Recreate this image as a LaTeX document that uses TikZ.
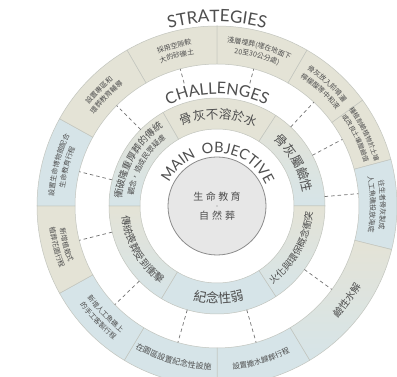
\documentclass[tikz,border=0pt]{standalone}
\usepackage{fontspec}
\usepackage{tikz}
\usetikzlibrary{decorations.text}

\newfontfamily\cjk{Noto Sans CJK TC}
\newfontfamily\capfont{Lato}
\newfontfamily\widecap[LetterSpace=22]{Lato}

\definecolor{sand}{HTML}{E4E3D6}
\definecolor{mist}{HTML}{D6E4E8}
\definecolor{seam}{HTML}{C2C5BE}
\definecolor{ink}{HTML}{4E4E4E}
\definecolor{corefill}{HTML}{E7E7E7}

%% ring sector: inner radius, outer radius, from, to, style
\newcommand{\ringcell}[5]{\path[#5] (#3:#1) arc[start angle=#3,end angle=#4,radius=#1] -- (#4:#2) arc[start angle=#4,end angle=#3,radius=#2] -- cycle;}
%% text on an arc: radius of baseline, middle angle, font, text
\newcommand{\cwtext}[4]{\path[decorate,decoration={text along path,text align=center,text color=ink,text={|#3|#4}}] ({#2+90}:#1) arc[start angle={#2+90},end angle={#2-90},radius=#1];}
\newcommand{\ccwtext}[4]{\path[decorate,decoration={text along path,text align=center,text color=ink,text={|#3|#4}}] ({#2-90}:#1) arc[start angle={#2-90},end angle={#2+90},radius=#1];}

\begin{document}
\begin{tikzpicture}[x=1pt,y=1pt]
	\tikzstyle{cell}=[draw=seam,line width=0.5pt]
	\tikzstyle{fade}=[cell,top color=sand,bottom color=mist]
	\tikzstyle{link}=[draw=black!55,dash pattern=on 3.5pt off 3pt,line width=0.7pt]
	\tikzstyle{core}=[circle,draw=black!45,line width=0.8pt,fill=corefill,minimum size=98pt,inner sep=0pt]
	\useasboundingbox (0,0) rectangle (397,377);
	\fill[white] (0,0) rectangle (397,377);
	\clip (0,0) rectangle (397,377);
	\begin{scope}[shift={(217,171)}]
	%% strategies
	\ringcell{142}{180}{90}{120}{cell,fill=sand}
	\ringcell{142}{180}{60}{90}{cell,fill=sand}
	\ringcell{142}{180}{36}{60}{cell,fill=sand}
	\ringcell{142}{180}{15}{36}{cell,fill=sand}
	\ringcell{142}{180}{-14}{15}{cell,fill=mist}
	\ringcell{142}{180}{-59}{-14}{fade}
	\ringcell{142}{180}{-90}{-59}{cell,fill=mist}
	\ringcell{142}{180}{-121}{-90}{cell,fill=mist}
	\ringcell{142}{180}{-151}{-121}{cell,fill=mist}
	\ringcell{142}{180}{-180}{-151}{cell,fill=sand}
	\ringcell{142}{180}{151}{180}{cell,fill=mist}
	\ringcell{142}{180}{120}{151}{cell,fill=sand}
	%% challenges
	\ringcell{77}{108}{57}{120}{cell,fill=sand}
	\ringcell{77}{108}{0}{57}{fade}
	\ringcell{77}{108}{-57}{0}{fade}
	\ringcell{77}{108}{-121}{-57}{cell,fill=mist}
	\ringcell{77}{108}{-180}{-121}{fade}
	\ringcell{77}{108}{120}{180}{fade}
	%% main objective
	\node[core] (goal) at (0,0) {};
	\node[font=\cjk\fontsize{10}{10}\selectfont,text=ink] (goal top) at (0,9) {生\hspace{2.5pt}命\hspace{2.5pt}教\hspace{2.5pt}育};
	\node[circle,fill=ink!70,inner sep=0.5pt] (goal dot) at (0,0) {};
	\node[font=\cjk\fontsize{10}{10}\selectfont,text=ink] (goal bottom) at (0,-10) {自\hspace{3pt}然\hspace{3pt}葬};
	%% dashed links, challenge -> strategy
	\foreach \a/\r [count=\k] in {105/127,75/127,47/108,28/108,5/108,-36/108,-74/108,-106/108,-136/108,-166/108,166/108,135/108}{
		\coordinate (m\k) at (\a:\r);
		\coordinate (s\k) at (\a:142);
		\draw[link] (m\k) -- (s\k);
	}
	%% ring titles
	\cwtext{184}{90}{\capfont\fontsize{17}{17}\selectfont}{STRATEGIES}
	\cwtext{112}{90}{\capfont\fontsize{16}{16}\selectfont}{CHALLENGES}
	\cwtext{53}{89}{\widecap\fontsize{14.5}{14.5}\selectfont}{MAIN OBJECTIVE}
	%% challenges text
	\cwtext{87.2}{89}{\cjk\fontsize{12.5}{12.5}\selectfont}{骨灰不溶於水}
	\cwtext{87.2}{29}{\cjk\fontsize{12.5}{12.5}\selectfont}{骨灰屬鹼性}
	\ccwtext{95.6}{-29}{\cjk\fontsize{9.5}{9.5}\selectfont}{火化與環保概念衝突}
	\ccwtext{97}{-89}{\cjk\fontsize{13}{13}\selectfont}{紀念性弱}
	\ccwtext{95.8}{-150}{\cjk\fontsize{10}{10}\selectfont}{傳統喪葬受到衝擊}
	\cwtext{95.4}{150}{\cjk\fontsize{9.5}{9.5}\selectfont}{衝破隆重厚葬的傳統}
	\cwtext{84.2}{150}{\cjk\fontsize{7.5}{7.5}\selectfont}{觀念，造成民眾疑慮}
	%% strategies text
	\cwtext{163.3}{105}{\cjk\fontsize{7}{7}\selectfont}{採用空隙較}
	\cwtext{153.3}{105}{\cjk\fontsize{7}{7}\selectfont}{大的砂礫土}
	\cwtext{163.3}{75}{\cjk\fontsize{7}{7}\selectfont}{淺層埋葬(埋在地面下}
	\cwtext{153.3}{75}{\cjk\fontsize{7}{7}\selectfont}{20至30公分處)}
	\cwtext{163.3}{48}{\cjk\fontsize{7}{7}\selectfont}{骨灰放入前噴灑}
	\cwtext{153.3}{48}{\cjk\fontsize{7}{7}\selectfont}{檸檬酸等中和液}
	\cwtext{163.5}{26}{\cjk\fontsize{6.5}{6.5}\selectfont}{種植耐鹼植物於土壤}
	\cwtext{153.5}{26}{\cjk\fontsize{6.5}{6.5}\selectfont}{或改良土壤酸鹼值}
	\cwtext{163.3}{0.5}{\cjk\fontsize{7}{7}\selectfont}{往生者骨灰製成}
	\cwtext{153.3}{0.5}{\cjk\fontsize{7}{7}\selectfont}{人工魚礁投放海底}
	\ccwtext{164.8}{-36}{\cjk\fontsize{10}{10}\selectfont}{鹼性水解}
	\ccwtext{163.9}{-74}{\cjk\fontsize{7.5}{7.5}\selectfont}{設置撒水歸葬行程}
	\ccwtext{164}{-106}{\cjk\fontsize{8}{8}\selectfont}{在園區設置紀念性設施}
	\ccwtext{158.7}{-136}{\cjk\fontsize{7}{7}\selectfont}{新增人工魚礁上}
	\ccwtext{168.7}{-136}{\cjk\fontsize{7}{7}\selectfont}{的手工客製行程}
	\ccwtext{158.7}{-165.5}{\cjk\fontsize{7}{7}\selectfont}{新增植栽式}
	\ccwtext{168.7}{-165.5}{\cjk\fontsize{7}{7}\selectfont}{植葬花園行程}
	\cwtext{163.3}{165.5}{\cjk\fontsize{7}{7}\selectfont}{設置生命博物館配合}
	\cwtext{153.3}{165.5}{\cjk\fontsize{7}{7}\selectfont}{生命教育行程}
	\cwtext{163.3}{135.5}{\cjk\fontsize{7}{7}\selectfont}{設置專區和}
	\cwtext{153.3}{135.5}{\cjk\fontsize{7}{7}\selectfont}{環葬教育輔導}
	\end{scope}
\end{tikzpicture}
\end{document}
